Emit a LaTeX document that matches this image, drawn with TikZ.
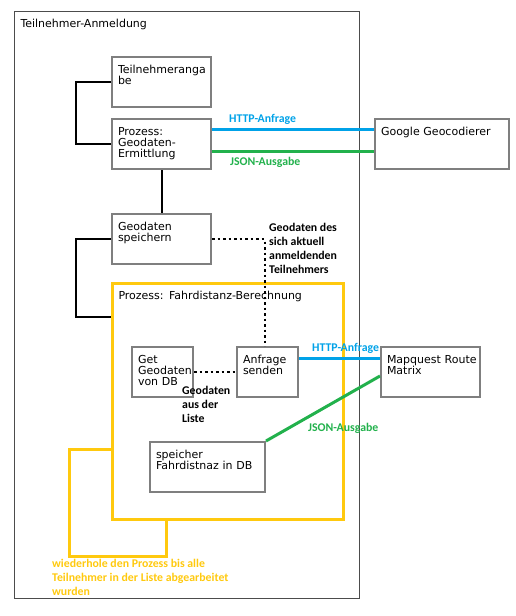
\documentclass[tikz,border=0pt]{standalone}
\usepackage{fontspec}
\setmainfont{DejaVu Sans}
\newfontfamily\labelfont{Carlito}
\usepackage{tikz}
\usetikzlibrary{calc}
\definecolor{boxgray}{HTML}{7F7F7F}
\definecolor{httpblue}{HTML}{00A2E8}
\definecolor{jsongreen}{HTML}{22B14C}
\definecolor{loopyellow}{HTML}{FFC90E}
\newcommand{\boxcolor}{boxgray}
\newcommand{\wirewidth}{2pt}
\newcommand{\flowwidth}{3pt}
\hyphenpenalty=10000
\exhyphenpenalty=10000

\tikzset{
  blockbox/.style 2 args={draw=\boxcolor, line width=\wirewidth, anchor=north west,
    inner xsep=6pt, inner ysep=7.5pt, text height=8.5pt, text width=#1, text depth=#2,
    align=left, font=\fontsize{11}{11}\selectfont},
  tag/.style={anchor=base west, inner sep=0pt, align=left,
    font=\labelfont\bfseries\fontsize{11.8}{14}\selectfont},
  wire/.style={black, line width=\wirewidth},
  dotline/.style={black, line width=\wirewidth, dash pattern=on 2.5pt off 3pt},
  flow/.style={line width=\flowwidth}
}

\begin{document}
\begin{tikzpicture}[x=1pt,y=-1pt]
\useasboundingbox (0,0) rectangle (515,616);
%boxes
\node[blockbox={333pt}{563.5pt}] (0) at (14,11) [draw=black!70, line width=1pt] {Teilnehmer-Anmeldung};
\node[blockbox={87pt}{26.5pt}] (1) at (111,56) {Teilnehmeranga\\be};
\node[blockbox={87pt}{26.5pt}] (2) at (111,118) {Prozess:\\Geodaten-\\Ermittlung};
\node[blockbox={87pt}{26.5pt}] (3) at (111,213) {Geodaten\\speichern};
\node[blockbox={219pt}{212.5pt}] (4) at (111,282) [draw=loopyellow, line width=\flowwidth] {Prozess: Fahrdistanz-Berechnung};
\node[blockbox={122pt}{26.5pt}] (5) at (374,118) {Google Geocodierer};
\node[blockbox={49pt}{26.5pt}] (6) at (131,346) {Get\\Geodaten\\von DB};
\node[blockbox={49pt}{26.5pt}] (7) at (236,346) {Anfrage\\senden};
\node[blockbox={87pt}{26.5pt}] (8) at (380,346) {Mapquest~Route\\Matrix};
\node[blockbox={103pt}{26.5pt}] (9) at (149,441) {speicher\\Fahrdistnaz in DB};
%labels (base = last line)
\node[tag] (10) at (229,122) [text=httpblue] {HTTP-Anfrage};
\node[tag] (11) at (230,165) [text=jsongreen] {JSON-Ausgabe};
\node[tag] (12) at (269,273) {Geodaten des\\sich aktuell\\anmeldenden\\Teilnehmers};
\node[tag] (13) at (182,422) {Geodaten\\aus der\\Liste};
\node[tag] (14) at (312,351) [text=httpblue] {HTTP-Anfrage};
\node[tag] (15) at (308,431) [text=jsongreen] {JSON-Ausgabe};
\node[tag] (16) at (52,595) [text=loopyellow] {wiederhole den Prozess bis alle\\Teilnehmer in der Liste abgearbeitet\\wurden};
%links
\draw[wire] (1.west) -- ++(-35,0) |- (2.west);
\draw[wire] (2.south) -- (3.north);
\draw[wire] (3.west) -- ++(-35,0) |- ([yshift=-35pt]4.north west);
\draw[flow, httpblue] ([yshift=-11pt]2.north east) -- ([yshift=-11pt]5.north west);
\draw[flow, jsongreen] ([yshift=-33pt]2.north east) -- ([yshift=-33pt]5.north west);
\draw[dotline] (3.east) -| ([xshift=-3pt]7.north);
\draw[dotline] (6.east) -- (7.west);
\draw[flow, httpblue] ([yshift=-12pt]7.north east) -- ([yshift=-12pt]8.north west);
\draw[flow, jsongreen] ([yshift=-30pt]8.north west) -- (9.north east);
%loop
\draw[flow, loopyellow] ([yshift=-167pt]4.north west) -- ++(-42,0) |- ([xshift=55pt,yshift=-35pt]4.south west) -- ([xshift=55pt]4.south west);
\end{tikzpicture}
\end{document}
